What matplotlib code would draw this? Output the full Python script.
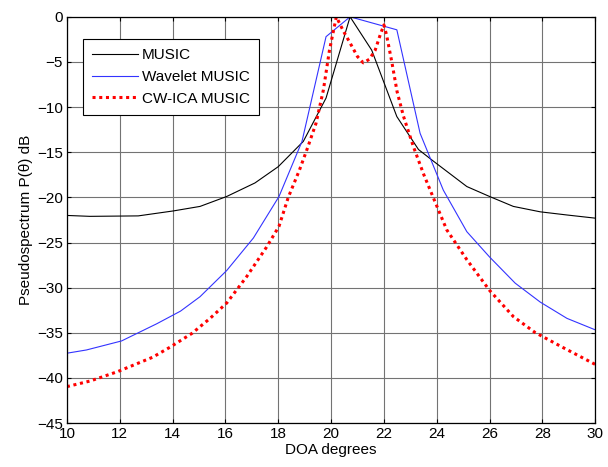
import matplotlib
matplotlib.use('Agg')
import matplotlib.pyplot as plt

plt.rcParams['font.family'] = ['Liberation Sans', 'DejaVu Sans']
plt.rcParams['font.size'] = 11

# MUSIC
music_x = [10, 10.87, 12.7, 14.03, 15.04, 16.05, 17.12, 18.0, 18.95, 19.81, 20.72,
           21.54, 22.49, 23.31, 23.88, 25.14, 26.0, 26.9, 27.92, 28.93, 30]
music_y = [-22.0, -22.1, -22.05, -21.5, -21.0, -19.9, -18.4, -16.6, -13.8, -9.0, 0,
           -3.7, -11.05, -14.7, -16.0, -18.8, -19.9, -21.0, -21.6, -21.95, -22.3]

# Wavelet MUSIC
wav_x = [10, 10.74, 12.07, 13.4, 14.3, 15.04, 16.05, 17.06, 18.03, 18.9, 19.81, 20.72,
         22.49, 23.37, 24.25, 25.14, 26.0, 26.97, 27.92, 28.93, 30]
wav_y = [-37.26, -36.9, -35.9, -34.0, -32.6, -31.0, -28.1, -24.5, -19.9, -13.8, -2.2, 0,
         -1.44, -12.9, -19.2, -23.8, -26.6, -29.5, -31.6, -33.4, -34.67]

# CW-ICA MUSIC
cw_x = [10, 10.89, 11.92, 13.25, 13.9, 14.73, 15.42, 16.05, 16.8, 17.56, 18.03, 18.38,
        18.8, 19.1, 19.43, 19.71, 19.94, 20.2, 20.47, 20.72, 21.0, 21.22, 21.45, 21.67,
        21.86, 22.0, 22.1, 22.3, 22.5, 22.74, 23.12, 23.5, 23.88, 24.38, 25.14, 26.0,
        26.9, 27.72, 28.76, 30]
cw_y = [-40.96, -40.33, -39.3, -37.7, -36.6, -35.07, -33.4, -31.7, -28.8, -25.5, -23.2, -20.0,
        -17.0, -14.6, -11.8, -8.1, -3.7, 0.0, -1.6, -2.9, -4.4, -5.1, -4.7, -3.7,
        -2.0, -0.9, -2.0, -5.0, -8.3, -11.0, -14.4, -17.4, -20.1, -23.6, -26.9, -30.3,
        -33.2, -34.96, -36.6, -38.5]

fig = plt.figure(figsize=(6.08, 4.67), dpi=100)
ax = fig.add_axes([0.110, 0.094, 0.869, 0.870])

ax.plot(music_x, music_y, color='black', lw=0.8, label='MUSIC')
ax.plot(wav_x, wav_y, color='#3333ff', lw=0.8, label='Wavelet MUSIC')
ax.plot(cw_x, cw_y, color='red', lw=2.2, ls=(0, (1, 1.2)), label='CW-ICA MUSIC')

ax.set_xlim(10, 30)
ax.set_ylim(-45, 0)
ax.set_xticks(range(10, 31, 2))
ax.set_yticks(range(-45, 1, 5))
ax.grid(True, color='0.45', lw=0.8)
ax.tick_params(direction='in', top=True, right=True, length=3, width=0.8, pad=3)
for s in ax.spines.values():
    s.set_linewidth(0.9)

ax.set_xlabel('DOA degrees', labelpad=1)
ax.set_ylabel('Pseudospectrum P(\u03b8) dB', labelpad=3)

leg = ax.legend(loc='upper left', bbox_to_anchor=(0.03, 0.945), fancybox=False,
                framealpha=1, edgecolor='black', handlelength=3.0, handletextpad=0.25,
                borderpad=0.6, labelspacing=0.5, borderaxespad=0)
leg.get_frame().set_linewidth(0.8)

fig.savefig('out.png', dpi=100)
